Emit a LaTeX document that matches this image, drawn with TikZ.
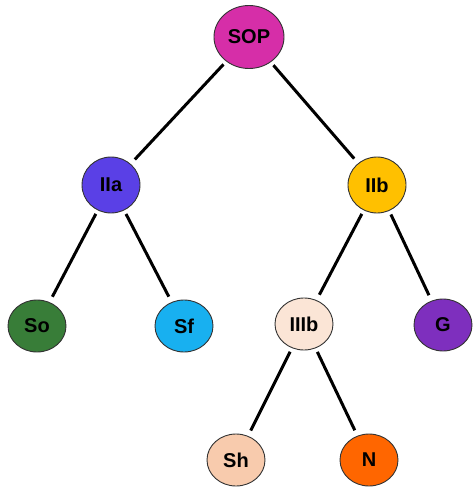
\documentclass[tikz,border=0pt]{standalone}
\usepackage{fontspec}
\setmainfont{Liberation Sans}
\usetikzlibrary{shapes.geometric}
\definecolor{cSOP}{RGB}{214,46,168}
\definecolor{cIIa}{RGB}{90,64,230}
\definecolor{cIIb}{RGB}{255,192,0}
\definecolor{cSo}{RGB}{56,125,56}
\definecolor{cSf}{RGB}{24,176,240}
\definecolor{cIIIb}{RGB}{251,229,214}
\definecolor{cG}{RGB}{126,47,190}
\definecolor{cSh}{RGB}{248,203,173}
\definecolor{cN}{RGB}{255,102,0}
\begin{document}
\begin{tikzpicture}[x=1pt,y=-1pt,
  tnode/.style={ellipse, draw=black!80, line width=0.9pt, minimum width=58pt, minimum height=52pt, inner sep=0pt, font=\fontsize{20}{20}\selectfont\bfseries},
  edge/.style={line width=3pt, shorten <=4pt, shorten >=6pt}]
\useasboundingbox (0,0) rectangle (475,487);
\node[tnode, fill=cSOP, minimum width=70pt, minimum height=63pt] (SOP) at (249,37) {SOP};
\node[tnode, fill=cIIa, minimum height=56pt] (IIa) at (111,185) {IIa};
\node[tnode, fill=cIIb, minimum height=56pt] (IIb) at (377,185) {IIb};
\node[tnode, fill=cSo] (So) at (37,326) {So};
\node[tnode, fill=cSf] (Sf) at (184,326) {Sf};
\node[tnode, fill=cIIIb] (IIIb) at (304,324) {IIIb};
\node[tnode, fill=cG] (G) at (443,325) {G};
\node[tnode, fill=cSh] (Sh) at (236,460) {Sh};
\node[tnode, fill=cN] (N) at (369,460) {N};
\draw[edge] (SOP) -- (IIa);
\draw[edge] (SOP) -- (IIb);
\draw[edge] (IIa) -- (So);
\draw[edge] (IIa) -- (Sf);
\draw[edge] (IIb) -- (IIIb);
\draw[edge] (IIb) -- (G);
\draw[edge] (IIIb) -- (Sh);
\draw[edge] (IIIb) -- (N);
\end{tikzpicture}
\end{document}
